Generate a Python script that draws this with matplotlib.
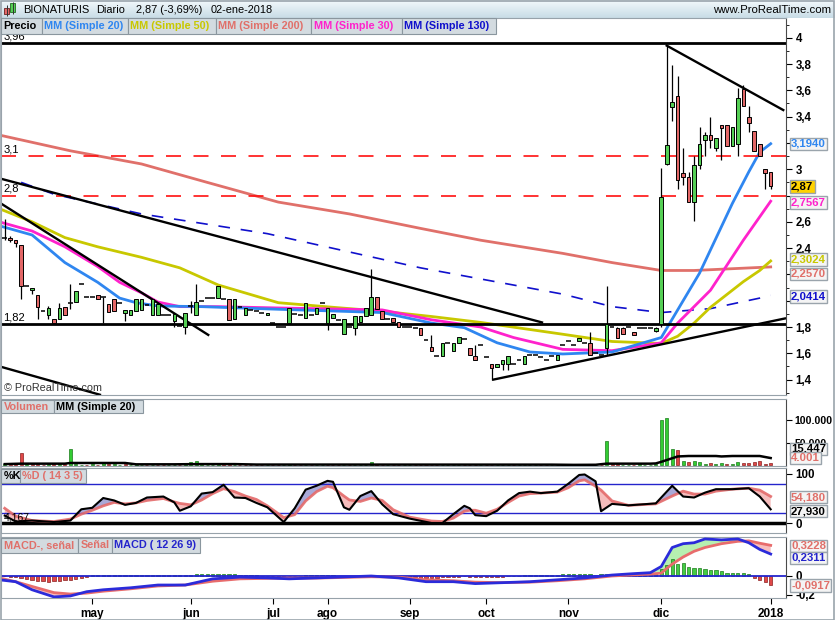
import numpy as np
import matplotlib
matplotlib.use("Agg")
import matplotlib.pyplot as plt
from matplotlib.patches import Rectangle
from matplotlib.colors import LinearSegmentedColormap
from matplotlib.ticker import FixedLocator, FuncFormatter

plt.rcParams["font.family"] = ["Liberation Sans", "DejaVu Sans"]
plt.rcParams["font.weight"] = "bold"

W, H = 835, 620

# --- Velas diarias (solo sesiones con negociación) ---
APERTURA = [
    2.48, 2.48, 2.46, 2.42, 2.11, 2.08, 2.04, 1.92, 1.895, 1.86,
    1.86, 1.95, 1.98, 1.99, 2.13, 2.03, 2.03, 2.04, 2.03, 1.975,
    2.01, 1.98, 1.905, 1.895, 1.92, 1.93, 1.97, 1.895, 1.895, 1.89,
    1.89, 1.845, 1.81, 1.80, 1.96, 1.895, 2.00, 2.02, 2.02, 2.02,
    2.015, 2.015, 1.86, 1.95, 1.895, 1.93, 1.92, 1.91, 1.895, 1.83,
    1.80, 1.80, 1.83, 1.90, 1.89, 1.87, 1.89, 1.90, 1.98, 1.83,
    1.87, 1.85, 1.745, 1.80, 1.795, 1.84, 1.88, 1.895, 2.03, 1.92,
    1.86, 1.87, 1.835, 1.80, 1.80, 1.79, 1.795, 1.70, 1.65, 1.58,
    1.58, 1.68, 1.62, 1.68, 1.71, 1.64, 1.58, 1.66, 1.57, 1.515,
    1.495, 1.515, 1.515, 1.52, 1.55, 1.515, 1.59, 1.59, 1.57, 1.55,
    1.58, 1.55, 1.66, 1.695, 1.66, 1.69, 1.68, 1.68, 1.60, 1.59,
    1.64, 1.80, 1.795, 1.79, 1.80, 1.76, 1.795, 1.795, 1.795, 1.77,
    1.82, 3.04, 3.47, 3.56, 2.97, 2.94, 2.75, 3.03, 3.22, 3.26,
    3.16, 3.34, 3.34, 3.18, 3.19, 3.61, 3.40, 3.29, 3.19, 3.00, 2.98,
]
MAXIMO = [
    2.62, 2.49, 2.46, 2.42, 2.11, 2.10, 2.04, 1.92, 1.96, 1.86,
    1.98, 1.95, 2.13, 2.075, 2.13, 2.03, 2.03, 2.04, 2.03, 1.975,
    2.01, 1.98, 1.93, 1.93, 2.01, 2.01, 1.97, 2.01, 1.975, 1.89,
    1.89, 1.90, 1.81, 1.91, 2.00, 2.13, 2.00, 2.02, 2.02, 2.115,
    2.015, 2.015, 2.01, 1.95, 1.945, 1.93, 1.92, 1.91, 1.91, 1.83,
    1.80, 1.80, 1.945, 1.90, 1.89, 1.98, 1.89, 1.945, 1.98, 1.945,
    1.90, 1.85, 1.86, 1.80, 1.88, 1.885, 1.945, 2.24, 2.03, 1.92,
    1.86, 1.87, 1.835, 1.80, 1.80, 1.79, 1.795, 1.70, 1.74, 1.58,
    1.68, 1.68, 1.68, 1.725, 1.71, 1.64, 1.66, 1.66, 1.57, 1.515,
    1.515, 1.55, 1.58, 1.52, 1.55, 1.58, 1.59, 1.59, 1.57, 1.55,
    1.58, 1.59, 1.66, 1.695, 1.66, 1.72, 1.68, 1.76, 1.60, 1.59,
    2.11, 1.80, 1.80, 1.80, 1.80, 1.76, 1.795, 1.795, 1.795, 1.80,
    3.01, 3.94, 3.79, 3.71, 3.16, 2.98, 3.10, 3.32, 3.28, 3.40,
    3.24, 3.34, 3.34, 3.32, 3.62, 3.64, 3.48, 3.29, 3.19, 3.00, 2.98,
]
MINIMO = [
    2.46, 2.45, 2.41, 2.01, 2.11, 2.05, 1.86, 1.92, 1.86, 1.83,
    1.86, 1.895, 1.94, 1.99, 2.13, 2.03, 2.03, 2.01, 1.83, 1.917,
    1.925, 1.98, 1.845, 1.895, 1.92, 1.93, 1.97, 1.895, 1.895, 1.89,
    1.89, 1.80, 1.81, 1.745, 1.91, 1.895, 2.00, 2.02, 2.02, 2.02,
    2.015, 1.857, 1.86, 1.95, 1.895, 1.93, 1.92, 1.91, 1.895, 1.83,
    1.80, 1.80, 1.83, 1.90, 1.89, 1.87, 1.89, 1.90, 1.98, 1.78,
    1.87, 1.85, 1.745, 1.80, 1.74, 1.84, 1.88, 1.895, 1.94, 1.86,
    1.86, 1.835, 1.80, 1.80, 1.80, 1.79, 1.74, 1.70, 1.62, 1.58,
    1.58, 1.68, 1.62, 1.68, 1.71, 1.59, 1.55, 1.66, 1.57, 1.40,
    1.495, 1.47, 1.47, 1.52, 1.55, 1.515, 1.59, 1.59, 1.57, 1.55,
    1.58, 1.55, 1.66, 1.695, 1.66, 1.69, 1.68, 1.59, 1.60, 1.59,
    1.59, 1.80, 1.715, 1.745, 1.80, 1.74, 1.795, 1.795, 1.795, 1.76,
    1.80, 3.03, 3.37, 2.85, 2.88, 2.75, 2.61, 3.00, 3.10, 3.16,
    3.14, 3.07, 3.18, 3.18, 3.10, 3.48, 3.28, 3.14, 3.10, 2.85, 2.85,
]
CIERRE = [
    2.48, 2.46, 2.44, 2.11, 2.11, 2.10, 1.95, 1.92, 1.945, 1.83,
    1.945, 1.895, 1.98, 2.075, 2.13, 2.03, 2.03, 2.01, 2.03, 1.917,
    1.925, 1.98, 1.93, 1.93, 2.01, 2.01, 1.97, 2.01, 1.975, 1.89,
    1.89, 1.90, 1.81, 1.91, 1.96, 1.99, 2.00, 2.02, 2.02, 2.115,
    2.015, 1.857, 2.01, 1.95, 1.945, 1.93, 1.92, 1.91, 1.91, 1.83,
    1.80, 1.80, 1.945, 1.90, 1.89, 1.98, 1.89, 1.945, 1.98, 1.945,
    1.90, 1.85, 1.86, 1.80, 1.88, 1.885, 1.945, 2.03, 1.94, 1.86,
    1.86, 1.835, 1.80, 1.80, 1.80, 1.79, 1.74, 1.70, 1.62, 1.58,
    1.68, 1.68, 1.68, 1.725, 1.71, 1.59, 1.55, 1.66, 1.57, 1.49,
    1.515, 1.55, 1.58, 1.52, 1.55, 1.58, 1.59, 1.59, 1.57, 1.55,
    1.58, 1.59, 1.66, 1.695, 1.66, 1.72, 1.68, 1.59, 1.60, 1.59,
    1.82, 1.80, 1.715, 1.745, 1.80, 1.74, 1.795, 1.795, 1.795, 1.795,
    2.79, 3.185, 3.51, 2.92, 2.94, 2.75, 3.03, 3.19, 3.26, 3.22,
    3.24, 3.31, 3.18, 3.32, 3.54, 3.48, 3.35, 3.14, 3.10, 2.97, 2.87,
]
# volumen en miles de títulos
VOLUMEN = [
    2, 3, 2, 27, 3, 2, 3, 1, 3, 2,
    3, 2, 36, 2, 1, 1, 3, 1, 5, 2,
    3, 1, 2, 1, 2, 1, 1, 1, 1, 1,
    0.5, 0.5, 1, 3, 6, 10, 2, 1, 1, 2,
    2, 3, 1, 0.5, 0.5, 0.5, 0.5, 0.5, 0.5, 0.5,
    0.5, 0.5, 2, 0.5, 0.5, 1, 0.5, 0.5, 0.5, 1,
    0.5, 0.5, 1, 0.5, 0.5, 0.5, 1, 6, 2, 1,
    0.5, 0.5, 1, 0.5, 0.5, 0.5, 1, 0.5, 1, 0.5,
    1, 0.5, 0.5, 0.5, 0.5, 0.5, 1, 0.5, 0.5, 1,
    1, 0.5, 1, 0.5, 0.5, 0.5, 0.5, 0.5, 0.5, 0.5,
    0.5, 1, 0.5, 0.5, 0.5, 1, 0.5, 2, 0.5, 1,
    54, 2, 2, 1, 0.5, 1, 5, 0.5, 0.5, 2,
    100, 104, 35, 33, 8, 7, 10, 7, 3, 5,
    3, 4, 2, 2, 7, 4, 4, 6, 8, 2, 4.001,
]
VOL_MM_X = [0, 3, 11, 12, 22, 24, 31, 35, 42, 46, 100, 104, 108, 110, 118,
            119, 120, 122, 123, 125, 130, 131, 133, 138, 140]
VOL_MM_Y = [2, 3, 3, 4.5, 4.5, 1.5, 1.5, 2, 2, 1, 0.8, 0.3, 0.5, 3, 3,
            3.5, 7, 15, 19, 20, 20, 19, 20, 20, 15.447]

# --- Medias móviles (índice de sesión, valor) ---
MM20_X = [-1, 5, 11, 17, 21, 24, 28, 36, 50, 69, 78, 84, 90, 96, 102, 111,
          120, 123, 127, 133, 136, 138, 140]
MM20_Y = [2.57, 2.50, 2.29, 2.14, 2.02, 1.985, 1.96, 1.955, 1.935, 1.91, 1.83,
          1.795, 1.68, 1.61, 1.595, 1.61, 1.72, 1.93, 2.21, 2.74, 2.98, 3.13, 3.194]
MM30_X = [-1, 5, 11, 17, 21, 25, 28, 32, 39, 50, 69, 78, 87, 93, 102, 111,
          120, 123, 129, 135, 140]
MM30_Y = [2.60, 2.53, 2.41, 2.26, 2.14, 2.06, 1.99, 1.955, 1.955, 1.945, 1.93,
          1.855, 1.80, 1.72, 1.63, 1.62, 1.68, 1.83, 2.08, 2.46, 2.7567]
MM50_X = [-1, 5, 11, 17, 25, 32, 39, 50, 60, 69, 78, 87, 102, 111, 120, 123,
          126, 129, 135, 138, 140]
MM50_Y = [2.70, 2.60, 2.48, 2.41, 2.33, 2.25, 2.12, 1.985, 1.95, 1.92, 1.88,
          1.835, 1.745, 1.69, 1.675, 1.73, 1.83, 1.95, 2.145, 2.23, 2.3024]
MM130_X = [3, 9, 25, 48, 76, 102, 111, 120, 129, 138, 140]
MM130_Y = [2.90, 2.81, 2.66, 2.51, 2.25, 2.05, 1.955, 1.91, 1.94, 2.02, 2.0414]
MM200_X = [-1, 12, 25, 37, 50, 63, 76, 87, 102, 111, 120, 126, 140]
MM200_Y = [3.26, 3.14, 3.04, 2.90, 2.75, 2.66, 2.55, 2.46, 2.36, 2.29, 2.23,
           2.23, 2.257]

# --- Líneas dibujadas a mano sobre el precio ---
NIVELES_HORIZ = [3.96, 1.82]
NIVELES_DISCONT = [3.1, 2.8]
DIRECTRICES = [
    ([121, 142.3], [3.94, 3.45]),
    ([-0.9, 98.2], [2.93, 1.835]),
    ([-0.9, 37.2], [2.745, 1.74]),
    ([-0.9, 17.4], [1.50, 1.285]),
    ([89.3, 142.6], [1.40, 1.865]),
]

# --- Estocástico %K / %D ---
STO_X = [0, 2, 5, 9, 12, 14, 16, 18, 20, 22, 24, 26, 29, 31, 32, 34, 36, 38,
         40, 42, 44, 46, 48, 51, 53, 55, 57, 59, 60, 62, 63, 65, 67, 69, 71, 74,
         78, 80, 82, 84, 85, 86, 88, 90, 92, 94, 96, 98, 101, 103, 105, 106,
         108, 109, 111, 114, 119, 122, 124, 126, 128, 130, 133, 136, 138, 140]
STO_K = [15, 3, 5, 2, 5, 28, 31, 51, 46, 37, 41, 52, 54, 42, 25, 34, 60, 63,
         78, 52, 51, 41, 32, 2, 30, 68, 76, 86, 84, 32, 27, 55, 65, 38, 18, 9,
         0, 0, 18, 35, 30, 16, 14, 25, 46, 61, 64, 61, 64, 80, 98, 99,
         85, 24, 39, 36, 40, 76, 54, 52, 62, 69, 69, 71, 54, 27.93]
STO_D = [30, 14, 5, 3, 8, 18, 26, 35, 42, 39, 41, 46, 50, 43, 40, 37, 47, 60,
         70, 64, 55, 48, 35, 11, 17, 45, 64, 75, 72, 55, 47, 44, 51, 46, 27, 12,
         4, 3, 10, 24, 26, 26, 20, 28, 42, 55, 60, 61, 63, 72, 86, 88,
         75, 67, 45, 36, 39, 55, 65, 59, 59, 65, 69, 71, 67, 54.18]

# --- MACD (12 26 9) ---
MACD_X = [-1, 2, 5, 9, 12, 15, 18, 23, 28, 33, 38, 43, 48, 52, 57, 62, 67, 72,
          77, 82, 86, 91, 96, 101, 106, 111, 115, 118, 120, 121, 122, 124, 126,
          128, 131, 134, 136, 138, 140]
MACD_L = [-0.04, -0.06, -0.145, -0.22, -0.21, -0.165, -0.145, -0.124, -0.095,
          -0.095, -0.03, -0.012, -0.02, -0.03, -0.02, -0.01, 0.0, -0.02, -0.06,
          -0.06, -0.08, -0.07, -0.06, -0.04, -0.02, 0.01, 0.025, 0.035, 0.10,
          0.20, 0.30, 0.34, 0.35, 0.39, 0.38, 0.39, 0.35, 0.28, 0.2311]
SENAL = [-0.02, -0.06, -0.11, -0.175, -0.19, -0.18, -0.16, -0.135, -0.105,
         -0.095, -0.055, -0.03, -0.025, -0.022, -0.022, -0.015, -0.008, -0.012,
         -0.04, -0.05, -0.065, -0.07, -0.065, -0.05, -0.03, 0.0, 0.012, 0.02,
         0.03, 0.08, 0.125, 0.20, 0.26, 0.30, 0.34, 0.365, 0.37, 0.345, 0.3228]
HISTO = [
    -0.005, -0.01, -0.015, -0.02, -0.03, -0.045, -0.05, -0.055, -0.06, -0.055,
    -0.05, -0.045, -0.04, -0.03, -0.02, -0.01, 0.008, 0.01, 0.012, 0.012,
    0.012, 0.012, 0.01, 0.01, 0.012, 0.012, 0.01, 0.01, 0.008, 0.008,
    0.006, 0.006, 0.008, 0.012, 0.015, 0.018, 0.02, 0.022, 0.024, 0.026,
    0.024, 0.02, 0.016, 0.014, 0.012, 0.01, 0.008, 0.004, 0.002, -0.002,
    -0.008, -0.01, -0.004, 0.002, 0.004, 0.008, 0.01, 0.012, 0.012, 0.01,
    0.008, 0.004, 0.002, 0.0, 0.002, 0.004, 0.006, 0.008, 0.008, 0.006,
    0.002, -0.002, -0.006, -0.01, -0.012, -0.015, -0.018, -0.02, -0.018, -0.016,
    -0.014, -0.012, -0.01, -0.008, -0.004, -0.006, -0.01, -0.012, -0.012, -0.01,
    -0.008, -0.006, -0.004, 0.0, 0.004, 0.006, 0.008, 0.01, 0.012, 0.012,
    0.014, 0.014, 0.016, 0.016, 0.018, 0.02, 0.018, 0.016, 0.014, 0.018,
    0.02, 0.02, 0.018, 0.016, 0.014, 0.014, 0.014, 0.014, 0.015, 0.018,
    0.07, 0.12, 0.175, 0.13, 0.14, 0.095, 0.088, 0.084, 0.077, 0.067,
    0.06, 0.05, 0.035, 0.03, 0.03, 0.028, 0.018, -0.025, -0.04, -0.067, -0.0917,
]

MESES = ["may", "jun", "jul", "ago", "sep", "oct", "nov", "dic", "2018"]
MESES_IDX = [16, 34, 49, 59, 74, 88, 103, 120, 140]

# niveles del eje de precio tapados por las etiquetas de valor
OCULTOS = [3.2, 2.8, 2.2, 2.0]

C = {
    "verde": "#55CF55", "rojo": "#E36767",
    "mm20": "#2F86F0", "mm50": "#C8C800", "mm200": "#E0706A",
    "mm30": "#FF22CC", "mm130": "#1010CC", "azul": "#2424CC",
    "borde": "#97A2AA", "leyenda": "#D3DBE0",
}


def es(v, dec):
    return f"{v:.{dec}f}".replace(".", ",")


def miles(v):
    return f"{v:,.0f}".replace(",", ".")


def eje_precio(v, p):
    if any(abs(v - q) < 1e-6 for q in OCULTOS):
        return ""
    return es(v, 1).replace(",0", "")


fig = plt.figure(figsize=(W / 100, H / 100), dpi=100)
fig.patch.set_facecolor("white")


def panel(y0, y1):
    ax = fig.add_axes([1 / W, 1 - y1 / H, 785 / W, (y1 - y0) / H])
    ax.set_xlim(-0.68, 142.8)
    for s in ax.spines.values():
        s.set_color(C["borde"])
    ax.spines["right"].set_color("#4A4A4A")
    ax.yaxis.tick_right()
    ax.tick_params(axis="y", direction="out", length=4, width=0.8,
                   labelsize=8.3, pad=3)
    ax.tick_params(axis="x", bottom=False, labelbottom=False)
    return ax


def leyenda(items, y0, y1):
    for x0, x1, txt, col in items:
        fig.add_artist(Rectangle((x0 / W, 1 - y1 / H), (x1 - x0) / W, (y1 - y0) / H,
                                 transform=fig.transFigure, fc=C["leyenda"],
                                 ec="#8A969E", lw=0.8, zorder=5))
        fig.text((x0 + 2.5) / W, 1 - (y0 + y1) / 2 / H, txt, color=col,
                 fontsize=7.8, va="center", ha="left", zorder=6)


def etiqueta(y, txt, col, fc="#F4F4F4"):
    fig.text(791 / W, 1 - y / H, txt, color=col, fontsize=8.2, va="center",
             ha="left", zorder=7,
             bbox=dict(boxstyle="square,pad=0.12", fc=fc, ec="#9AA4AC", lw=1))


# --- Barra de título ---
tb = fig.add_axes([0, 1 - 18 / H, 1, 18 / H])
grad = np.linspace(0, 1, 40).reshape(-1, 1)
tb.imshow(grad, aspect="auto", extent=[0, W, 18, 0],
          cmap=LinearSegmentedColormap.from_list("t", ["#F3F9FC", "#C8DCE6"]))
tb.set_xlim(0, W)
tb.set_ylim(18, 0)
tb.axis("off")
tb.vlines([6.5, 12.5], [5, 1.5], [16, 13.5], color="#333333", lw=0.7)
tb.add_patch(Rectangle((4, 8), 5, 6, fc=C["rojo"], ec="#6A2020", lw=0.6))
tb.add_patch(Rectangle((10, 3), 5, 9, fc=C["verde"], ec="#206A20", lw=0.6))
for xt, txt in [(23, "BIONATURIS"), (96, "Diario"), (136, "2,87 (-3,69%)"),
                (211, "02-ene-2018")]:
    tb.text(xt, 10, txt, fontsize=7.9, fontweight="normal", va="center")
tb.text(831, 10, "www.ProRealTime.com", fontsize=8.2, fontweight="normal",
        va="center", ha="right")

# --- Panel de precio ---
ax = panel(18, 395)
ax.set_ylim(1.283, 4.15)
x = np.arange(len(CIERRE))
o, h, l, c = (np.array(v) for v in (APERTURA, MAXIMO, MINIMO, CIERRE))
sube, baja, doji = c > o, c < o, c == o

ax.plot(MM200_X, MM200_Y, color=C["mm200"], lw=2, zorder=2)
ax.plot(MM130_X, MM130_Y, color=C["mm130"], lw=1.2, ls=(0, (7, 6.5)), zorder=2)
ax.plot(MM50_X, MM50_Y, color=C["mm50"], lw=2, zorder=2)
ax.plot(MM30_X, MM30_Y, color=C["mm30"], lw=2, zorder=2)
ax.plot(MM20_X, MM20_Y, color=C["mm20"], lw=2, zorder=2)

for nivel in NIVELES_DISCONT:
    ax.axhline(nivel, color="#FF1010", lw=1.2, ls=(0, (9, 7.5)), zorder=2)
for nivel in NIVELES_HORIZ:
    ax.axhline(nivel, color="black", lw=2, zorder=2)
for xs, ys in DIRECTRICES:
    ax.plot(xs, ys, color="black", lw=1.7, zorder=2)

ax.vlines(x, l, h, color="black", lw=0.9, zorder=3)
ax.bar(x[sube], (c - o)[sube], bottom=o[sube], width=0.66, color=C["verde"],
       edgecolor="black", lw=0.7, zorder=4)
ax.bar(x[baja], (o - c)[baja], bottom=c[baja], width=0.66, color=C["rojo"],
       edgecolor="black", lw=0.7, zorder=4)
ax.hlines(c[doji], x[doji] - 0.45, x[doji] + 0.45, color="black", lw=1.1, zorder=4)

ax.yaxis.set_major_locator(FixedLocator(np.round(np.arange(1.4, 4.01, 0.2), 1)))
ax.yaxis.set_minor_locator(FixedLocator(np.round(np.arange(1.3, 4.11, 0.1), 1)))
ax.yaxis.set_major_formatter(FuncFormatter(eje_precio))
ax.tick_params(axis="y", which="minor", length=2, width=0.6, right=True)

ytr = ax.get_yaxis_transform()
for nivel in NIVELES_HORIZ + NIVELES_DISCONT:
    txt = es(nivel, 2).rstrip("0")
    ax.text(0.003, nivel + 0.012, txt, transform=ytr, fontsize=8,
            fontweight="normal", va="bottom", ha="left")
ax.text(0.004, 1.30, "© ProRealTime.com", transform=ytr, fontsize=7.8,
        fontweight="normal", va="bottom", color="#333333")

leyenda([(1, 42, "Precio", "black"), (42, 128, "MM (Simple 20)", C["mm20"]),
         (128, 216, "MM (Simple 50)", C["mm50"]),
         (216, 311, "MM (Simple 200)", C["mm200"]),
         (311, 402, "MM (Simple 30)", C["mm30"]),
         (402, 496, "MM (Simple 130)", C["mm130"])], 18, 34)

etiqueta(144, es(MM20_Y[-1], 4), C["mm20"])
etiqueta(186.5, es(CIERRE[-1], 2), "black", fc="#FFD200")
etiqueta(202.5, es(MM30_Y[-1], 4), C["mm30"])
etiqueta(259.5, es(MM50_Y[-1], 4), C["mm50"])
etiqueta(274, es(MM200_Y[-1], 4), C["mm200"])
etiqueta(296.5, es(MM130_Y[-1], 4), C["mm130"])

# --- Volumen ---
av = panel(399, 466)
av.set_ylim(-2222, 146667)
vol = np.array(VOLUMEN) * 1000
cierre_prev = np.concatenate([[c[0]], c[:-1]])
alza = c >= cierre_prev
av.bar(x, vol, width=0.55, color=np.where(alza, "#33CC33", "#E04848"),
       edgecolor=np.where(alza, "#1A7A1A", "#8A2020"), lw=0.5, zorder=3)
av.plot(VOL_MM_X, np.array(VOL_MM_Y) * 1000, color="black", lw=1.8, zorder=4)
av.yaxis.set_major_locator(FixedLocator([50000, 100000]))
av.yaxis.set_major_formatter(FuncFormatter(lambda v, p: miles(v)))
av.tick_params(axis="y", labelsize=7.6, pad=2)
leyenda([(1, 54, "Volumen", C["mm200"]), (54, 143, "MM (Simple 20)", "black")], 400, 413)
etiqueta(449, miles(VOL_MM_Y[-1] * 1000), "black")
etiqueta(458, miles(VOLUMEN[-1] * 1000), C["mm200"])

# --- Estocástico ---
ast = panel(468, 533)
ast.set_ylim(-20.4, 112.2)
k, d = np.array(STO_K), np.array(STO_D)
ast.fill_between(STO_X, k, d, where=k >= d, interpolate=True, color="#A9A9D8", lw=0)
ast.fill_between(STO_X, k, d, where=k < d, interpolate=True, color="#F5BCBC", lw=0)
ast.axhline(80, color=C["azul"], lw=1)
ast.axhline(20, color=C["azul"], lw=1)
ast.axhline(0, color="black", lw=2.5)
ast.plot(STO_X, d, color="#E46A6A", lw=2, alpha=0.9)
ast.plot(STO_X, k, color="black", lw=1.5)
ast.yaxis.set_major_locator(FixedLocator([0, 100]))
ast.yaxis.set_major_formatter(FuncFormatter(lambda v, p: f"{v:.0f}"))
ast.text(0.003, 12, "4,167", transform=ast.get_yaxis_transform(), fontsize=7.5,
         fontweight="normal", va="center")
leyenda([(1, 20, "%K", "black"), (20, 86, "%D ( 14 3 5)", C["mm200"])], 469, 483)
etiqueta(497, es(STO_D[-1], 3), C["mm200"])
etiqueta(511, es(STO_K[-1], 3), "black")

# --- MACD ---
am = panel(537, 598)
am.set_ylim(-0.2316, 0.4105)
ml, sl = np.array(MACD_L), np.array(SENAL)
am.fill_between(MACD_X, ml, sl, where=ml >= sl, interpolate=True, color="#B6F0B0", lw=0)
am.fill_between(MACD_X, ml, sl, where=ml < sl, interpolate=True, color="#F7BDBD", lw=0)
hist = np.array(HISTO)
am.bar(x, hist, width=0.6, color=np.where(hist >= 0, "#44CC44", "#E04848"),
       edgecolor=np.where(hist >= 0, "#1A7A1A", "#8A2020"), lw=0.5, zorder=3)
am.axhline(0, color=C["azul"], lw=1.3, zorder=4)
am.plot(MACD_X, sl, color="#E86C6C", lw=2, zorder=5)
am.plot(MACD_X, ml, color="#2B2BDA", lw=2, zorder=6)
am.yaxis.set_major_locator(FixedLocator([-0.2, 0]))
am.yaxis.set_major_formatter(FuncFormatter(lambda v, p: "0" if v == 0 else es(v, 1)))
am.set_xticks(MESES_IDX)
am.set_xticklabels(MESES)
am.tick_params(axis="x", bottom=True, labelbottom=True, length=4, width=0.8,
               direction="out", labelsize=8.5, pad=3)
leyenda([(1, 78, "MACD-, señal", C["mm200"]), (78, 112, "Señal", C["mm200"]),
         (112, 200, "MACD ( 12 26 9)", C["azul"])], 538, 553)
etiqueta(546, es(SENAL[-1], 4), C["mm200"])
etiqueta(558, es(MACD_L[-1], 4), C["azul"])
etiqueta(585.5, es(HISTO[-1], 4), C["mm200"])

fig.add_artist(Rectangle((0.5 / W, 0.5 / H), (W - 2) / W, (H - 1.5) / H,
                         transform=fig.transFigure, fill=False, ec="#9AA4AC", lw=1.2))

fig.savefig("out.png", dpi=100)
